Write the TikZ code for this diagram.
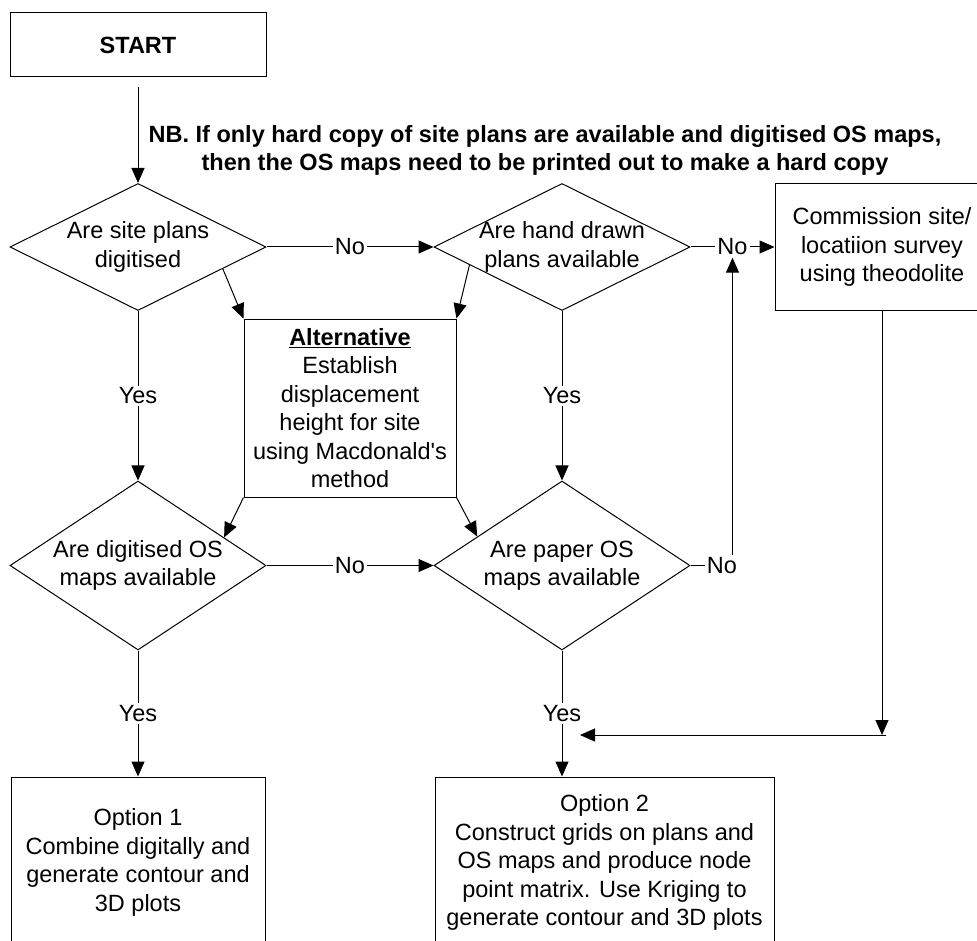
\documentclass[tikz,border=0pt]{standalone}
\usepackage{fontspec}
\setmainfont{Liberation Sans}
\usetikzlibrary{shapes.geometric, arrows.meta, calc}
\tikzset{>={Triangle[length=15pt, width=13pt]}}
\tikzset{
	box/.style={draw, line width=1pt, inner sep=0pt, align=center},
	decision/.style={draw, diamond, line width=1pt, inner sep=0pt, minimum width=256pt, minimum height=127pt},
	answer/.style={fill=white, inner sep=2pt},
	flow/.style={->, line width=1pt}
}

\begin{document}
\begin{tikzpicture}[x=1pt, y=-1pt, font=\fontsize{23.5}{28.5}\selectfont]
	\useasboundingbox (0, 0) rectangle (977, 941);
	\clip (0, 0) rectangle (977, 941);
	\node[box, minimum width=256pt, minimum height=64pt](start) at (138, 45){\textbf{START}};
	\node[align=center, font=\bfseries\fontsize{23.5}{28}\selectfont](nb) at (545, 150){NB. If only hard copy of site plans are available and digitised OS maps,\\then the OS maps need to be printed out to make a hard copy};
	\node[decision, label={[align=center]center:Are site plans\\digitised}](dsite) at (138, 247){};
	\node[decision, label={[align=center]center:Are hand drawn\\plans available}](dhand) at (562, 247){};
	\node[decision, minimum height=169pt, label={[align=center]center:Are digitised OS\\maps available}](ddigi) at (138, 565.5){};
	\node[decision, minimum height=169pt, label={[align=center]center:Are paper OS\\maps available}](dpaper) at (562, 565.5){};
	\node[box, minimum width=214pt, minimum height=127pt](survey) at (882, 247){Commission site/\\locatiion survey\\using theodolite};
	\node[box, minimum width=212pt, minimum height=178pt](alt) at (350, 408){\underline{\textbf{Alternative}}\\Establish\\displacement\\height for site\\using Macdonald\textquotesingle s\\method};
	\node[box, minimum width=254pt, minimum height=171pt](opt1) at (138, 862.5){Option 1\\Combine digitally and\\generate contour and\\3D plots};
	\node[box, minimum width=339pt, minimum height=171pt](opt2) at (604.5, 862.5){Option 2\\Construct grids on plans and\\OS maps and produce node\\point matrix. Use Kriging to\\generate contour and 3D plots};
	\draw[flow, shorten <=10pt](start) -- (dsite);
	\draw[flow](dsite) -- node[answer](nosite){No} (dhand);
	\draw[flow](dhand) -- node[answer](nohand){No} (survey);
	\draw[flow](dsite) -- node[answer](yessite){Yes} (ddigi);
	\draw[flow](dhand) -- node[answer](yeshand){Yes} (dpaper);
	\draw[flow](ddigi) -- node[answer](nodigi){No} (dpaper);
	\draw[flow](ddigi) -- node[answer](yesdigi){Yes} (opt1);
	\draw[flow](dpaper) -- node[answer](yespaper){Yes} (dpaper |- opt1.north);
	\node[answer](nopaper) at (722, 565.5){No};
	\draw[line width=1pt](dpaper) -- (nopaper);
	\draw[flow](nopaper.north -| nohand) -- (nohand);
	\draw[flow]($(dsite.east)!0.34!(dsite.south)$) -- (alt.north west);
	\draw[flow]($(dhand.west)!0.28!(dhand.south)$) -- (alt.north east);
	\draw[flow](alt.south west) -- ($(ddigi.north)!0.67!(ddigi.east)$);
	\draw[flow](alt.south east) -- ($(dpaper.west)!0.34!(dpaper.north)$);
	\coordinate (bend) at (882, 735);
	\coordinate (join) at (580, 735);
	\draw[flow](survey) -- (bend);
	\draw[flow]([xshift=4pt]bend) -- (join);
\end{tikzpicture}
\end{document}
